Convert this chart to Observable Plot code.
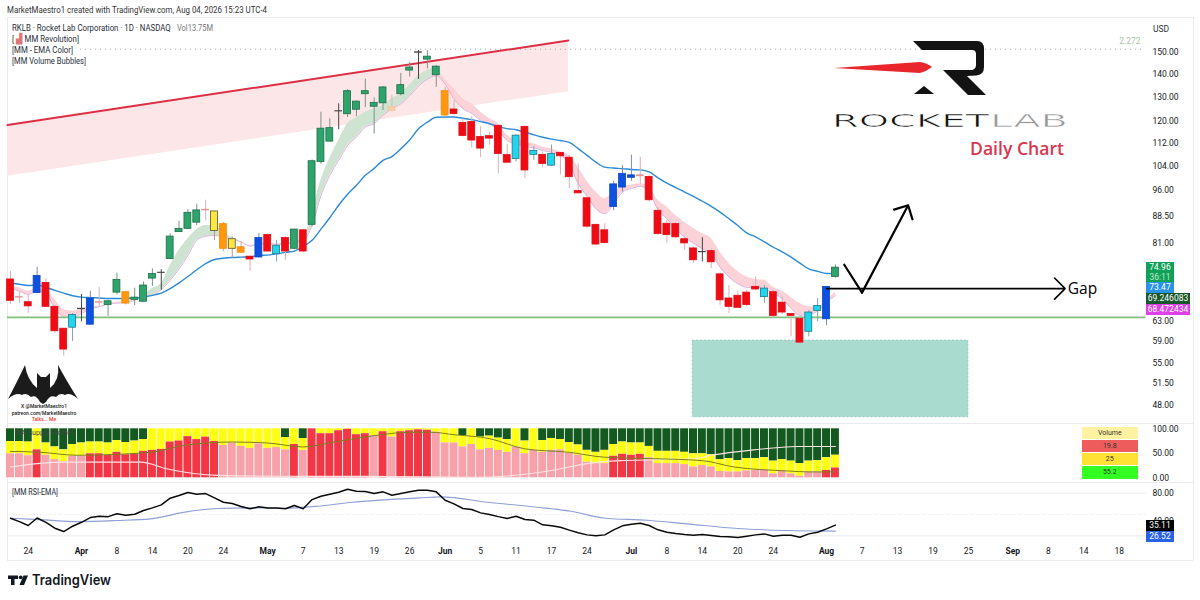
<!DOCTYPE html>
<html><head><meta charset="utf-8">
<script src="https://cdn.jsdelivr.net/npm/d3@7"></script>
<script src="https://cdn.jsdelivr.net/npm/@observablehq/plot@0.6"></script>
<style>
html,body{margin:0;background:#fff;overflow:hidden}
#root{position:relative;width:1200px;height:600px;font-family:Roboto,sans-serif;color:#131722}
#root>svg,.pane{position:absolute;left:0}
.ln{position:absolute;background:#e9ebf0}
.tag{position:absolute;left:1146px;color:#fff;font:8.5px/11px Roboto,sans-serif;text-align:center;box-sizing:border-box}
.cell{position:absolute;left:1081.5px;width:56.5px;text-align:center;font:7px/12.5px Roboto,sans-serif;color:#333}
</style></head><body><div id="root"></div>
<script>
// ---------- price pane ----------
const kinds = ("rprbrrrcnb"+"pggogggngg"+"ggpyoyorbr"+"crgrgggngg"+"gggfggnggo"+"rrrrrrrcrc"+"rcrrrrrrbb"+"bprrrrrrnr"+"rrrrrcrrrr"+"ccbg").split("");
const opens = [72.1,68.1,67.0,69.0,71.3,66.0,61.5,61.7,65.6,62.3,67.0,66.4,69.1,69.2,67.5,67.1,72.3,73.7,77.0,84.0,84.9,86.6,90.3,84.3,86.2,82.1,80.0,77.6,77.4,83.2,78.2,82.4,79.6,84.5,86.0,105.3,112.5,124.1,122.9,124.7,131.1,125.9,127.3,124.2,131.1,141.5,150.1,146.6,139.4,132.4,124.8,119.5,119.9,114.2,114.5,118.4,107.7,106.4,118.0,107.8,107.8,104.1,108.5,106.8,95.9,93.7,86,84.5,91.1,97,100.1,100.9,100.4,90,86.3,86.2,82.1,79.7,78.8,79,73.3,67.8,68.4,69.1,70.4,68.1,69.2,66.9,64.5,63.5,60.9,65.1,63.4,72.7];
const highs = [74.0,69.2,68.6,75.0,72.3,66.3,61.5,64.6,68.7,69.4,70.3,67.4,73.6,69.4,70.1,71.5,74.6,74.4,83.5,87.0,90.3,91.9,93.1,89.8,86.7,82.7,81.4,77.8,83.6,83.5,81.8,82.7,84.7,84.7,106.0,123.7,121.1,127.1,133.0,128.3,137.6,129.6,134.4,130.7,140.2,145.3,151.0,151.0,143.8,134.0,128.4,121.1,122.0,118.0,116.0,118.8,111.5,115,118.4,110.7,108.8,111.3,108.6,107.6,104.7,94,86.2,86.3,99,104.1,107.7,107,100.8,90.9,87.2,86.6,82.7,80,82.5,79.5,73.6,70.7,69.4,69.6,72.6,70.7,69.6,68.2,64.6,64,65.2,67.8,70.5,75.6];
const lows = [66.5,66.7,64.6,68.9,65.9,60.6,56.3,59.0,62.9,62.3,66.0,64.0,68.6,66.4,66.3,66.9,70.5,69.6,76.9,84.0,84.7,85.8,87.2,81.8,78.8,77.2,78.5,74.0,77.3,78.8,76.3,76.7,79.4,78.7,85.5,104.6,112.5,116.9,121.6,121.9,125.6,115.3,124.4,123.9,130.4,138.6,137.5,142.3,134.0,121.6,122.5,114.2,110.2,106.9,111.2,101.4,104.8,105.3,99.8,105.9,103.4,103.8,101,96.6,95.1,85,80.4,80.9,90,95.6,99,98,92.5,83,81.1,82.3,79.2,75.9,76.3,74.7,66.3,64.6,65.7,66,69.6,66.8,63.6,64.3,59.9,58.6,59.9,62.9,62.1,72.4];
const closes = [67.3,68.0,66.1,72.9,66.0,61.0,57.5,64.3,65.5,67.8,66.9,67.2,72.0,66.7,68.0,70.7,73.4,73.6,82.8,84.9,89.4,90.1,90.1,89.8,79.6,79.6,78.6,76.9,82.4,78.9,80.4,78.9,84.7,78.9,105.6,117.3,117.5,124.0,132.4,128.0,132.4,127.5,134.0,125.8,135.0,142.9,149.9,148.0,143.3,122.4,123.0,114.6,112.9,110.0,113.6,108.1,105.1,114.7,102.5,109.2,104.7,108.1,107.3,100.3,95.2,85.5,80.7,81.1,98,101.4,100.9,100.6,93.1,83.5,83.2,82.6,81,76.7,78.7,76.2,67.4,66,65.8,66.4,69.8,70,64.1,64.8,64.1,58.8,64.8,66.2,70.4,74.9];
const emaBlue = [71.3,71.0,70.7,70.8,70.3,69.6,69.0,68.4,68.1,68.0,67.9,67.8,67.8,67.8,67.9,68.1,68.5,69.0,70.0,71.3,72.8,74.4,75.9,76.9,77.2,77.4,77.5,77.6,77.9,78.0,78.3,78.7,79.0,80.2,81.8,84.8,88.0,91.6,94.9,97.7,100.9,103.2,105.9,107.2,109.9,113.1,117.3,119.8,121.7,121.8,121.8,121.3,120.8,120,119.2,118.1,117.3,116.9,116,115,114.1,113.4,112.9,112.2,110,107.6,105.3,103.6,103.3,103.1,102.8,102.7,102,100.1,98.4,97,95.6,94.3,92.8,91.3,89.6,87.7,85.8,83.8,82.7,81.4,80,78.8,77.5,76,74.6,74,73.5,73.47];
const ribbonUpper = [70.5,70.2,69.4,70,69.6,67.6,65.4,65.1,65.4,66.1,66.1,66.7,67,67.1,67.6,68.5,70,71.1,75.4,79.2,82.2,84.7,85.8,85.8,84,82.5,81.5,80.5,80.9,81.1,80.9,81.1,81.4,82.3,89.5,99.3,106.6,112.9,119.2,121.5,123.7,125.1,126.4,129.2,131.3,135,139.2,141.5,143.3,137.6,133.4,129.2,127.1,123.7,121.2,119.2,114.8,113.5,112.3,111.7,110.5,109.9,108.7,107.6,103.6,99,95.6,93.6,95.6,97.2,97.7,98.2,97.2,93.1,91.1,88.6,86.7,85,83.6,82.3,78.8,75.9,74,72.7,72.1,71.9,70.3,69.4,68.1,66.7,66,65.9,67.4,69.25];
const ribbonLower = [70.2,69.4,68.7,69.4,68.9,65.7,63.9,63.8,64.6,65.6,66,66.6,66.8,66.9,67.4,68.2,68.5,69.8,71.9,74.6,77.9,81.8,82.9,83.1,82.7,82.1,81.4,80.3,80.8,80.9,80.8,80.9,81.2,81.8,85.8,94.5,100.9,105.9,111.1,114.1,117.9,119.2,122.5,125.1,127.1,130.4,134.6,137.6,139.2,135.4,129.2,125.1,123.2,120.5,119.2,116.6,112.9,111.7,110.7,110.3,109.3,108.7,107.6,104.8,98.2,94.3,90.6,89.1,92.1,95.6,96.7,97.4,95.6,90.3,87.7,84.9,82.7,81,79.6,78.4,75,72.7,71.1,70.3,70.3,70,68.9,67.8,65.7,64.2,64.5,65.1,67,68.47];
const priceTicks = [150,140,130,120,112,104,96,88.5,81,63,59,55,51.5,48];
const trendBars = [-0.34,62.9], trendTop = [118.7,155.9], trendBottom = [100.6,132.2];
const supportLevel = 63.8, dottedLevel = 151.6;
const zoneBars = [76.9,108], zonePrices = [46.2,59.2];
const gapArrow = {bars:[92,118.9], price:70};
const moveBars = [94,96,101.2], movePrices = [75.6,69.1,91.6];

// ---------- volume pane (percent) ----------
const volLow = [49,49,45,57,46,37,33,44,44,49,49,46,52,47,49,54,56,58,73,75,84,78,83,74,66,71,64,60,69,60,62,57,68,56,100,90,90,96,99,88,90,86,94,83,94,96,98,97,93,71,71,63,68,57,60,56,52,63,49,56,52,56,57,50,46,32,29,29,44,48,46,48,41,29,29,29,27,22,25,22,13,12,12,14,15,16,8,13,8,3,12,12,15,20];
const volMid = [74,74,73,100,71,63,57,68,71,73,73,71,76,72,75,78,100,100,100,100,100,100,100,100,100,100,100,100,100,100,100,82,100,80,100,100,100,100,100,100,100,100,100,100,100,100,100,100,100,100,100,86,100,83,85,81,78,100,75,100,76,80,78,72,67,56,52,56,68,73,71,71,64,54,54,54,52,49,49,47,37,39,35,39,39,41,34,37,34,29,34,35,41,46];
const volStrong = [3,9,10,11,12,13,14,15,16,17,18,19,20,21,22,23,32,34,35,36,37,38,39,40,42,44,45,46,47,68,69,70,71,92,93];
const volAvgBars = [0,3.4,7.5,15.8,19.5,25,29,33,36.5,41,45,47.4,50,54,58,63,67,72.6,78,81.6,87.6,90,93];
const volAvgVals = [54,52,46,52,66,73,71,63,73,86,93,93,88,80,59,52,42,39,35,22,14,12,12];
const volPaleBars = [0,3,6.4,14.7,17.7,23.3,32.7,40,52.6,61,65,68.8,73,77,79,83.8,88.7,93];
const volPaleVals = [22,29,32,32,18,5,3,3,1,15,29,35,37,39,46,57,64,64];
const volTicks = [0,50,100];
const volTable = ["Volume","19.8","25","55.2"];

// ---------- RSI pane ----------
const rsi = [44.8,40,34.5,45,39,30.7,26,33.5,39,45.7,47.6,47,51,49,50.4,55.6,59.3,63.6,73,76.7,81,78.6,79.5,73.4,67.3,65.4,61.2,58,60.8,59.3,59.3,58,62.6,58,71,75.8,78.6,81.4,85.6,82.8,82.3,79.5,81.9,77.2,79.5,81.9,84.2,84.2,81.9,70,65,58.4,57,52.3,50,47,44.3,47.6,43,42,35.4,34,32,28,24.2,21.3,20,21.3,28.4,34,36.3,37.8,34.5,28.4,25,23.2,21.8,20.8,21.8,20.4,19,18.5,17.6,19.4,21.3,22.7,19.4,20.8,20.8,18,22.7,25,29.8,35.11];
const rsiEmaBars = [0,3.8,7.5,12,15.8,19.5,23.3,27,30.8,34.6,38.3,42,46.2,48.5,53.8,59.4,63.2,67,71.8,76.3,82,87.6,93];
const rsiEmaVals = [44.8,42.4,40,41.5,43.8,53,58.4,59.3,58.9,61.7,66.9,70.6,73.4,74.8,67.3,60.3,54.6,44.8,42,36.8,30.2,27.4,26.52];
const rsiLevels = [80,20], rsiMid = 50, rsiTicks = [80,40];

// ---------- time axis ----------
const dayBars = [2,12,16,20,24,33,37,41,45,53,57,61,65,74,78,82,86,96,100,104,108,117,121,125];
const dayLabels = ["24","8","14","20","24","7","13","19","26","5","11","17","24","8","14","20","24","7","13","19","25","8","14","18"];
const monthBars = [8,29,49,70,92,113];
const monthLabels = ["Apr","May","Jun","Jul","Aug","Sep"];

// ---------- styling ----------
const bodyFill = {r:"#ee0b14",p:"#e9a8a8",b:"#0e50e0",c:"#22d5ec",o:"#ff980e",y:"#ffe640",g:"#2ea36b",n:"#555",f:"#f8cda6"};
const bodyEdge = {r:"#e20a14",p:"#e08f95",b:"#0d46c4",c:"#1b7788",o:"#f28c0a",y:"#55552a",g:"#1d6e49",n:"#444",f:"#f5c49a"};
const wickColor = {r:"#d9b0b4",p:"#d9b0b4",b:"#7d8aa5",c:"#86a0a5",o:"#c9b08a",y:"#a0a08a",g:"#7e9488",n:"#444",f:"#d8b8a8"};
const xScale = {type:"linear",domain:[0,100],range:[10,897],axis:null};
const baseStyle = {fontFamily:"Roboto,sans-serif",fontSize:"8.5px",background:"transparent",overflow:"visible",color:"#131722"};
const money = d=>d.toFixed(2);

const bars = kinds.map((k,i)=>({i,k,o:opens[i],h:highs[i],l:lows[i],c:closes[i],up:ribbonUpper[i],lo:ribbonLower[i],blue:emaBlue[i],
  vLow:volLow[i],vMid:volMid[i],strong:volStrong.includes(i),rsi:rsi[i]}));
const inGreen = d=>d.i>=15&&d.i<=48;
const zip = (xs,ys)=>xs.map((x,n)=>({x,y:ys[n]}));
const trend = trendBars.map((x,n)=>({x,top:trendTop[n],bot:trendBottom[n]}));

const priceChart = Plot.plot({
  width:1200,height:423,marginLeft:0,marginTop:0,marginBottom:0,marginRight:55,
  x:xScale,
  y:{type:"log",domain:[150,48],range:[52,405],axis:null},
  color:{type:"identity"},
  style:baseStyle,
  marks:[
    Plot.areaY(trend,{x:"x",y1:"bot",y2:"top",fill:"#fde6e7"}),
    Plot.rect([0],{x1:zoneBars[0],x2:zoneBars[1],y1:zonePrices[0],y2:zonePrices[1],fill:"#a9dccf",stroke:"#86bfae",strokeDasharray:"2 2",strokeWidth:0.6}),
    Plot.ruleY([dottedLevel],{x1:7.9,x2:127.7,stroke:"#9aa79a",strokeDasharray:"1 4",strokeWidth:1}),
    Plot.line(trend,{x:"x",y:"top",stroke:"#dc2f45",strokeWidth:2}),
    Plot.areaY(bars.filter(inGreen),{x:"i",y1:"lo",y2:"up",fill:"#cfe3d2",curve:"monotone-x"}),
    Plot.areaY(bars.filter(d=>d.i<=15),{x:"i",y1:"lo",y2:"up",fill:"#fad2d8",curve:"monotone-x"}),
    Plot.areaY(bars.filter(d=>d.i>=48),{x:"i",y1:"lo",y2:"up",fill:"#fad2d8",curve:"monotone-x"}),
    Plot.line(bars,{x:"i",y:"lo",stroke:"#dcb2dc",strokeWidth:1,curve:"monotone-x"}),
    Plot.line(bars,{x:"i",y:"blue",stroke:"#2b8ad6",strokeWidth:1.4,curve:"monotone-x"}),
    Plot.ruleY([supportLevel],{x1:-0.34,x2:128,stroke:"#7fc07c",strokeWidth:1.6}),
    Plot.ruleX(bars,{x:"i",y1:"l",y2:"h",stroke:d=>wickColor[d.k],strokeWidth:1}),
    Plot.rect(bars,{x1:d=>d.i-0.39,x2:d=>d.i+0.39,y1:"o",y2:"c",fill:d=>bodyFill[d.k],stroke:d=>bodyEdge[d.k],strokeWidth:0.8}),
    Plot.arrow([0],{x1:gapArrow.bars[0],x2:gapArrow.bars[1],y1:gapArrow.price,y2:gapArrow.price,stroke:"#000",strokeWidth:1.6,headLength:14,headAngle:90}),
    Plot.line(zip(moveBars.slice(0,2),movePrices.slice(0,2)),{x:"x",y:"y",stroke:"#000",strokeWidth:2.2}),
    Plot.arrow([0],{x1:moveBars[1],x2:moveBars[2],y1:movePrices[1],y2:movePrices[2],stroke:"#000",strokeWidth:2.2,headLength:10,headAngle:90}),
    Plot.text(["Gap"],{x:119.2,y:gapArrow.price,textAnchor:"start",fontSize:15.5,fontWeight:500,fontFamily:"Open Sans",fill:"#000"}),
    Plot.text(["2.272"],{x:126.2,y:155.4,fontSize:8.5,fill:"#a9c5a0"}),
    Plot.axisY(priceTicks,{anchor:"right",tickSize:0,tickPadding:7,tickFormat:money,label:null})
  ]
});

const volumeChart = Plot.plot({
  width:1200,height:59,marginLeft:0,marginTop:0,marginBottom:0,marginRight:55,
  x:xScale,
  y:{domain:[0,100],range:[54.3,5.3],axis:null},
  color:{type:"identity"},
  style:baseStyle,
  marks:[
    Plot.rect(bars,{x1:d=>d.i-0.45,x2:d=>d.i+0.45,y1:"vMid",y2:100,fill:"#14591f"}),
    Plot.rect(bars,{x1:d=>d.i-0.45,x2:d=>d.i+0.45,y1:"vLow",y2:"vMid",fill:"#ffff14"}),
    Plot.rect(bars,{x1:d=>d.i-0.45,x2:d=>d.i+0.45,y1:0,y2:"vLow",fill:d=>d.strong?"#f23645":"#f7a1aa"}),
    Plot.line(zip(volPaleBars,volPaleVals),{x:"x",y:"y",stroke:"#fbe4e4",strokeWidth:1.1,curve:"monotone-x"}),
    Plot.line(zip(volAvgBars,volAvgVals),{x:"x",y:"y",stroke:"#7f7f1c",strokeWidth:1,curve:"monotone-x"}),
    Plot.axisY(volTicks,{anchor:"right",tickSize:0,tickPadding:7,tickFormat:money,label:null})
  ]
});

const rsiChart = Plot.plot({
  width:1200,height:78,marginLeft:0,marginTop:0,marginBottom:18,marginRight:55,
  x:xScale,
  y:{domain:[80,20],range:[10.7,53.3],axis:null},
  color:{type:"identity"},
  style:baseStyle,
  marks:[
    Plot.ruleY(rsiLevels,{x1:-0.34,x2:128,stroke:"#ececec",strokeWidth:1}),
    Plot.ruleY([rsiMid],{x1:-0.34,x2:128,stroke:"#e6e6e6",strokeDasharray:"1 2",strokeWidth:1}),
    Plot.line(zip(rsiEmaBars,rsiEmaVals),{x:"x",y:"y",stroke:"#8e9fd6",strokeWidth:1.1,curve:"monotone-x"}),
    Plot.line(bars,{x:"i",y:"rsi",stroke:"#0a0a0a",strokeWidth:1.5}),
    Plot.axisY(rsiTicks,{anchor:"right",tickSize:0,tickPadding:7,tickFormat:money,label:null}),
    Plot.axisX(dayBars,{anchor:"bottom",tickSize:0,tickPadding:5,tickFormat:d=>dayLabels[dayBars.indexOf(d)],label:null}),
    Plot.axisX(monthBars,{anchor:"bottom",tickSize:0,tickPadding:5,fontWeight:"bold",tickFormat:d=>monthLabels[monthBars.indexOf(d)],label:null})
  ]
});

const root = document.getElementById("root");
priceChart.style.top="0px"; volumeChart.style.top="423px"; rsiChart.style.top="482px";

// frame lines (behind the panes)
[[6.5,17,1186.5,1],[6.5,560,1186.5,1],[6.5,17,1,543],[1193,17,1,543],[6.5,423,1186.5,1],[6.5,482,1186.5,1]]
 .forEach(([l,t,w,h])=>{const d=document.createElement("div");d.className="ln";d.style.cssText=`left:${l}px;top:${t}px;width:${w}px;height:${h}px`;root.append(d);});
root.append(priceChart,volumeChart,rsiChart);
// value tags
[["74.96<br><span style='color:#bfe8cf'>36:11</span>",262,20,28,"#10a057"],["73.47",282,11.3,28,"#2a93e8"],["69.246083",293.3,10.7,44,"#18562b"],["68.472434",304,11,44,"#df3fe6"],["35.11",519.5,11,28,"#000"],["26.52",530.5,11,28,"#2a62e6"]]
 .forEach(([s,t,h,w,c])=>{const d=document.createElement("div");d.className="tag";d.innerHTML=s;d.style.cssText=`top:${t}px;height:${h}px;width:${w}px;background:${c};line-height:${h>12?10:h}px`;root.append(d);});
// volume table
[["#fff2a0",426.7],["#ee5c5c",439.5],["#ffe135",452.5],["#35ff22",466]].forEach(([c,t],n)=>{const d=document.createElement("div");d.className="cell";d.textContent=volTable[n];d.style.cssText=`top:${t}px;background:${c};height:12.5px`;root.append(d);});

// overlay: text, logos
const ns="http://www.w3.org/2000/svg";
const ov=document.createElementNS(ns,"svg");
ov.setAttribute("width",1200);ov.setAttribute("height",600);ov.style.cssText="position:absolute;left:0;top:0;pointer-events:none";
ov.innerHTML=`
<g font-family="Roboto,sans-serif" font-size="9.5" fill="#2a2e39">
<text x="7" y="13" textLength="260" lengthAdjust="spacingAndGlyphs" fill="#333">MarketMaestro1 created with TradingView.com, Aug 04, 2026 15:23 UTC-4</text>
<text class="fit" data-x="12" data-y="30.5" data-w="159">RKLB · Rocket Lab Corporation · 1D · NASDAQ</text>
<text class="fit" data-x="177" data-y="30.5" data-w="36" fill="#777">Vol13.75M</text>
<text x="12" y="42" textLength="67" lengthAdjust="spacingAndGlyphs">[ <tspan fill="#d77">▟</tspan> MM Revolution]</text>
<text x="12" y="53" textLength="61" lengthAdjust="spacingAndGlyphs">[MM - EMA Color]</text>
<text x="12" y="64" textLength="74" lengthAdjust="spacingAndGlyphs">[MM Volume Bubbles]</text>
<text x="15" y="435" textLength="58" lengthAdjust="spacingAndGlyphs" fill="#444" font-size="8">[BA Supply Profile]</text>
<text x="12" y="495" textLength="46" lengthAdjust="spacingAndGlyphs">[MM RSI-EMA]</text>
<text x="1153" y="32" font-size="8.5">USD</text>
</g>
<path d="M913 41H977Q984 41 984 49V67Q984 75 976 75.5L967 76L986 95H968L943 70H972Q976 69 976 65V54Q976 50 972 50H922Z" fill="#131313"/>
<path d="M914 94L924 86L934 94Z" fill="#131313"/>
<path d="M834 68L920 62Q927 63 932 67Q927 71 920 73Z" fill="#e8262b"/>
<text x="832" y="127" font-family="DejaVu Sans" font-size="18" textLength="157" lengthAdjust="spacingAndGlyphs" fill="#111" stroke="#fff" stroke-width="0.5">ROCKET</text>
<text x="990" y="127" font-family="DejaVu Sans" font-size="18" textLength="78" lengthAdjust="spacingAndGlyphs" fill="#999" stroke="#fff" stroke-width="0.5">LAB</text>
<text x="970" y="155" font-family="Open Sans" font-weight="600" font-size="18" textLength="94" lengthAdjust="spacingAndGlyphs" fill="#d8364f">Daily Chart</text>
<path d="M8 399Q18 380 25 365Q27 380 37 388L37 373L41 377H46L50 373L50 388Q60 380 58 365Q66 380 78 399Q70 392 65 395Q60 392 56 397Q50 394 46 402L43 404L40 402Q36 394 31 397Q26 392 22 395Q16 392 8 399Z" fill="#1b1b1b"/>
<g font-family="Roboto,sans-serif" font-size="5" font-weight="500" text-anchor="middle">
<text x="44" y="408" fill="#222">X @MarketMaestro1</text>
<text x="44" y="414.5" fill="#222">patreon.com/MarketMaestro</text>
<text x="44" y="421" fill="#e33">Talks... Me</text></g>
<path d="M8 575.5H18V579H14.5V585H11V579H8Z" fill="#131722"/><circle cx="20.7" cy="577.3" r="1.9" fill="#131722"/>
<path d="M23.5 575.5H28L24 585H19.5Z" fill="#131722"/>
<text x="32" y="585" font-family="Inter" font-weight="600" font-size="14.5" textLength="79" lengthAdjust="spacingAndGlyphs" fill="#131722">TradingView</text>`;
root.append(ov);
ov.querySelectorAll(".fit").forEach(t=>{
  const k=+t.dataset.w/t.getComputedTextLength();
  t.setAttribute("transform",`translate(${t.dataset.x},${t.dataset.y}) scale(${k},1)`);
});
</script></body></html>
